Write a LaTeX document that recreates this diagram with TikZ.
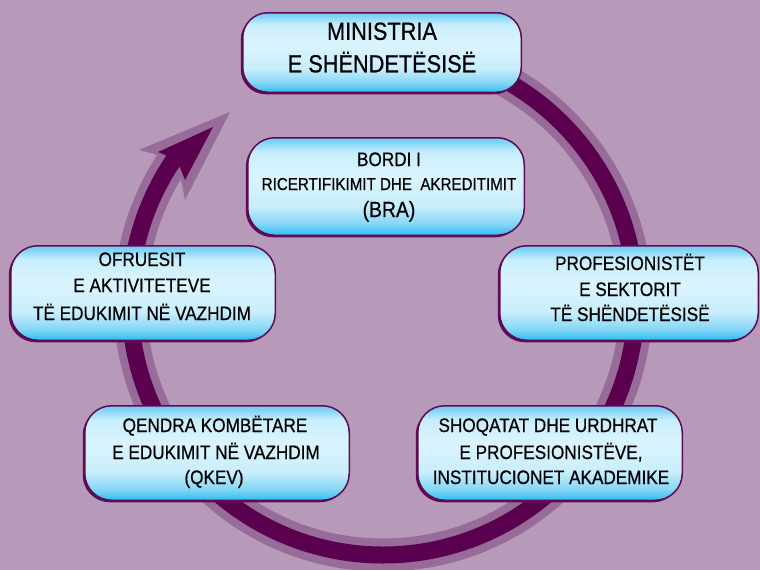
\documentclass[tikz,border=0pt]{standalone}
\usepackage{fontspec}
\setmainfont{Liberation Sans}[FakeStretch=0.88,FakeBold=0.6]
\usetikzlibrary{shadows}
\definecolor{bg}{HTML}{B79AB9}
\definecolor{lightband}{HTML}{976C98}
\definecolor{ringdark}{HTML}{5A004E}
\definecolor{boxedge}{HTML}{5E0A55}
\definecolor{cbzero}{HTML}{2DBDF0}
\definecolor{cbone}{HTML}{86D6F6}
\definecolor{cbtwo}{HTML}{C9EEFC}
\definecolor{cbthree}{HTML}{DAF4FD}
\definecolor{cbfour}{HTML}{6CCBF3}
\pgfdeclareverticalshading{boxshade}{100bp}{color(0bp)=(cbzero); color(25bp)=(cbzero); color(31bp)=(cbone); color(40bp)=(cbtwo); color(55bp)=(cbthree); color(67.5bp)=(cbtwo); color(72.5bp)=(cbone); color(75bp)=(cbfour); color(100bp)=(cbfour)}
\begin{document}
\begin{tikzpicture}[x=1pt,y=1pt,
  box/.style={draw=boxedge, line width=1.5pt, rounded corners=27pt, shading=boxshade,
    drop shadow={shadow xshift=-2pt,shadow yshift=-2pt,fill=boxedge,opacity=1},
    inner sep=0pt, outer sep=0pt},
  txt/.style={anchor=base, inner sep=0pt, text=black, font=\fontsize{19.5}{23}\selectfont},
]
\useasboundingbox[fill=bg] (0,0) rectangle (760,-570);
\coordinate (c) at (383,-302);
% ring with arrow
\draw[line width=33pt, lightband] ([shift={(90:253pt)}]c) arc[start angle=90,end angle=-215,radius=253pt];
\fill[lightband] (139,-150) -- (230,-112) -- (185,-200) -- (177,-160) -- cycle;
\draw[line width=17pt, ringdark] ([shift={(90:253pt)}]c) arc[start angle=90,end angle=-215,radius=253pt];
\fill[ringdark] (158,-152) -- (213,-127) -- (185,-180) -- (177,-160) -- cycle;
% boxes
\node[box, rounded corners=25pt, minimum width=278.5pt, minimum height=79.5pt] (min) at (382,-52.5) {};
\node[box, minimum width=276.5pt, minimum height=97.5pt] (bra) at (386,-186.5) {};
\node[box, minimum width=264.5pt, minimum height=94.5pt] (ofr) at (143,-293) {};
\node[box, minimum width=258.5pt, minimum height=94.5pt] (prof) at (629,-293) {};
\node[box, minimum width=264.5pt, minimum height=94.5pt] (qkev) at (217,-453) {};
\node[box, minimum width=264.5pt, minimum height=94.5pt] (shoq) at (550,-453) {};
% texts
\node[txt, font=\fontsize{24.7}{28}\selectfont] (minA) at (382,-39.8) {MINISTRIA};
\node[txt, font=\fontsize{24.7}{28}\selectfont] (minB) at (382,-72.3) {E SHËNDETËSISË};
\node[txt] (braA) at (389,-166) {BORDI I};
\node[txt, font=\fontsize{17.2}{20}\selectfont] (braB) at (389,-190) {RICERTIFIKIMIT DHE\ \ AKREDITIMIT};
\node[txt, font=\fontsize{22}{26}\selectfont] (braC) at (389,-217) {(BRA)};
\node[txt] (ofrA) at (142,-266) {OFRUESIT};
\node[txt] (ofrB) at (142,-292) {E AKTIVITETEVE};
\node[txt] (ofrC) at (142,-320) {TË EDUKIMIT NË VAZHDIM};
\node[txt] (profA) at (630,-270) {PROFESIONISTËT};
\node[txt] (profB) at (630,-296) {E SEKTORIT};
\node[txt] (profC) at (630,-321) {TË SHËNDETËSISË};
\node[txt] (qkevA) at (215,-432) {QENDRA KOMBËTARE};
\node[txt] (qkevB) at (216,-459) {E EDUKIMIT NË VAZHDIM};
\node[txt] (qkevC) at (214,-484) {(QKEV)};
\node[txt] (shoqA) at (548,-432) {SHOQATAT DHE URDHRAT};
\node[txt] (shoqB) at (551,-459) {E PROFESIONISTËVE,};
\node[txt] (shoqC) at (551,-484) {INSTITUCIONET AKADEMIKE};
\end{tikzpicture}
\end{document}
